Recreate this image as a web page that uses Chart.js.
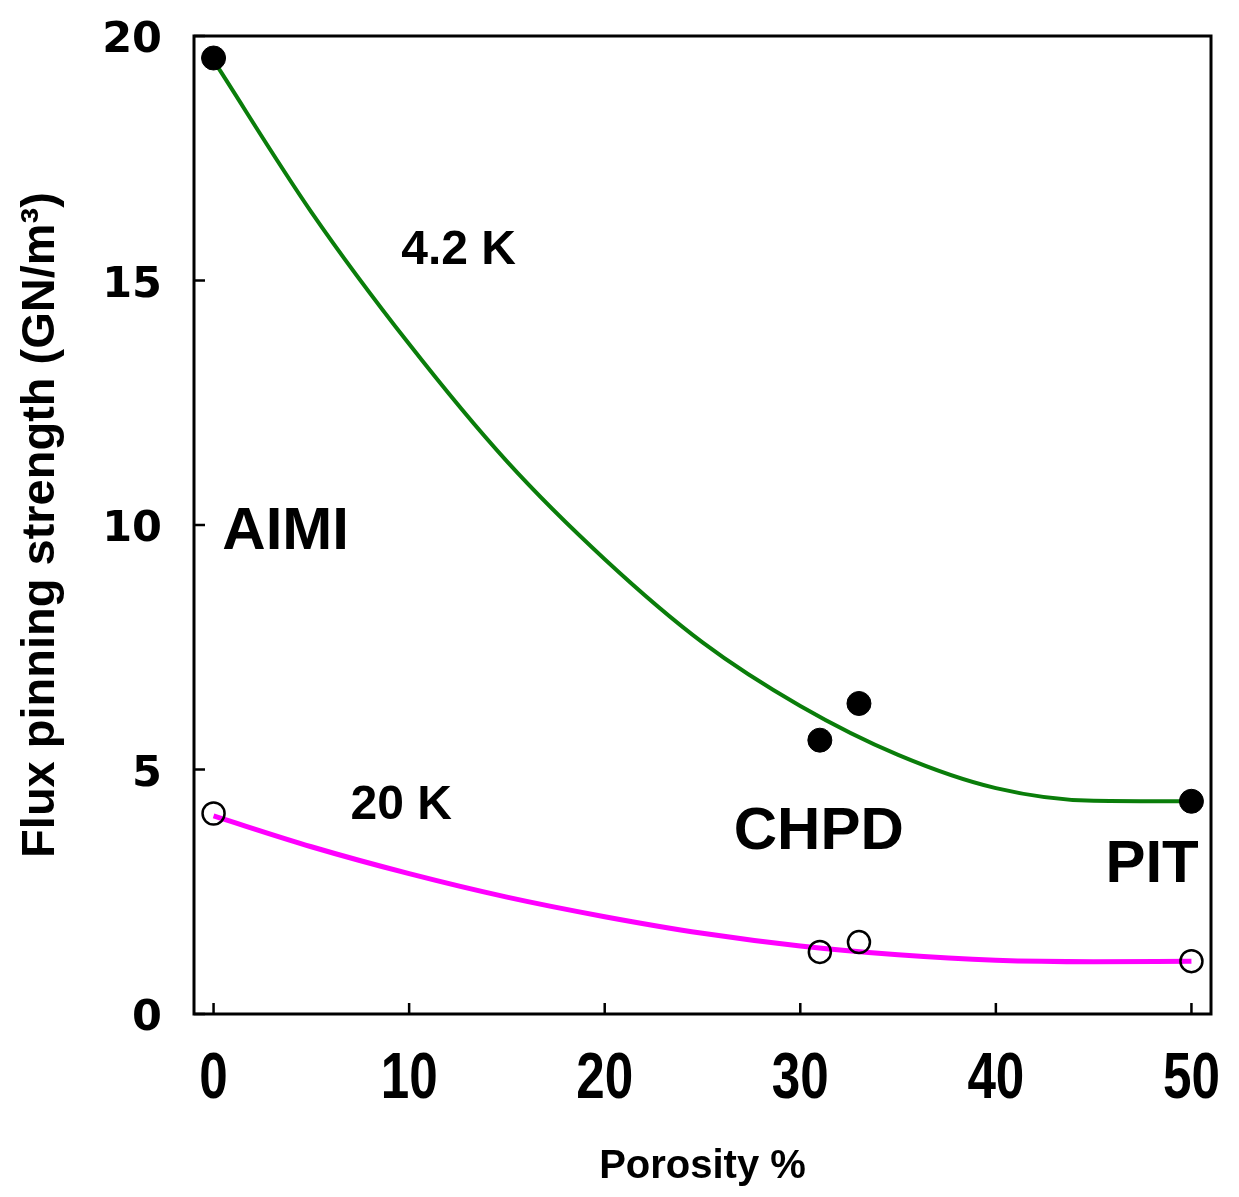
<!DOCTYPE html>
<html>
<head>
<meta charset="utf-8">
<script src="https://cdn.jsdelivr.net/npm/chart.js@4.4.1/dist/chart.umd.min.js"></script>
<style>
  html, body { margin: 0; padding: 0; background: #fff; }
  #wrap { width: 1239px; height: 1197px; }
</style>
</head>
<body>
<div id="wrap"><canvas id="chart" width="1239" height="1197"></canvas></div>
<script>
// measured points (porosity %, flux pinning strength GN/m3)
const porosity = [0, 31, 33, 50];
const fp42K = [19.55, 5.6, 6.35, 4.35];
const fp20K = [4.1, 1.27, 1.47, 1.08];

// fitted curves
const fitPorosity = [0, 5, 10, 15, 20, 25, 30, 35, 40, 45, 50];
const fit42K = [19.5, 16.4, 13.7, 11.3, 9.3, 7.6, 6.3, 5.3, 4.62, 4.36, 4.35];
const fit20K = [4.05, 3.42, 2.87, 2.39, 1.99, 1.65, 1.39, 1.21, 1.10, 1.07, 1.08];

const xTicks = [0, 10, 20, 30, 40, 50];
const yTicks = [0, 5, 10, 15, 20];

const notes = [
  { text: '4.2 K', x: 9.6, y: 15.6, size: 48 },
  { text: 'AIMI', x: 0.45, y: 9.85, size: 60 },
  { text: '20 K', x: 7.0, y: 4.25, size: 48 },
  { text: 'CHPD', x: 26.6, y: 3.72, size: 60 },
  { text: 'PIT', x: 45.6, y: 3.03, size: 60 }
];

const pts = (xs, ys) => xs.map((x, i) => ({ x: x, y: ys[i] }));

const framePlugin = {
  id: 'frame',
  beforeDatasetsDraw(chart) {
    const { ctx, chartArea: a, scales: { x, y } } = chart;
    ctx.save();
    ctx.strokeStyle = '#000';
    ctx.lineWidth = 3;
    ctx.strokeRect(a.left, a.top, a.right - a.left, a.bottom - a.top);
    ctx.lineWidth = 2.5;
    ctx.beginPath();
    xTicks.forEach(v => {
      const px = x.getPixelForValue(v);
      ctx.moveTo(px, a.bottom);
      ctx.lineTo(px, a.bottom - 11);
    });
    yTicks.forEach(v => {
      const py = y.getPixelForValue(v);
      ctx.moveTo(a.left, py);
      ctx.lineTo(a.left + 11, py);
    });
    ctx.stroke();

    ctx.fillStyle = '#000';
    ctx.textAlign = 'left';
    ctx.textBaseline = 'middle';
    notes.forEach(n => {
      ctx.font = 'bold ' + n.size + 'px "Liberation Sans", Arial, sans-serif';
      ctx.fillText(n.text, x.getPixelForValue(n.x), y.getPixelForValue(n.y));
    });

    // x tick labels: narrow bold face, squeezed like the original
    ctx.font = 'bold 64px "Liberation Sans", Arial, sans-serif';
    ctx.textAlign = 'center';
    ctx.textBaseline = 'middle';
    xTicks.forEach(v => {
      const px = x.getPixelForValue(v);
      ctx.save();
      ctx.translate(px, a.bottom + 66);
      ctx.scale(0.8, 1);
      ctx.fillText(String(v), 0, 0);
      ctx.restore();
    });
    ctx.restore();
  }
};

new Chart(document.getElementById('chart'), {
  type: 'scatter',
  data: {
    datasets: [
      {
        label: '4.2 K',
        data: pts(porosity, fp42K),
        pointRadius: 12,
        pointBackgroundColor: '#000',
        pointBorderColor: '#000',
        pointBorderWidth: 1
      },
      {
        label: '20 K',
        data: pts(porosity, fp20K),
        pointRadius: 11,
        pointBackgroundColor: 'rgba(0,0,0,0)',
        pointBorderColor: '#000',
        pointBorderWidth: 2.5
      },
      {
        type: 'line',
        label: 'fit 4.2 K',
        data: pts(fitPorosity, fit42K),
        borderColor: '#0a7d0a',
        borderWidth: 4,
        pointRadius: 0,
        fill: false,
        cubicInterpolationMode: 'monotone'
      },
      {
        type: 'line',
        label: 'fit 20 K',
        data: pts(fitPorosity, fit20K),
        borderColor: '#ff00ff',
        borderWidth: 5,
        pointRadius: 0,
        fill: false,
        cubicInterpolationMode: 'monotone'
      }
    ]
  },
  options: {
    responsive: false,
    animation: false,
    layout: { padding: { top: 36, right: 28, left: 0, bottom: 0 } },
    plugins: {
      legend: { display: false },
      tooltip: { enabled: false }
    },
    scales: {
      x: {
        type: 'linear',
        min: -1,
        max: 51,
        afterBuildTicks: s => { s.ticks = xTicks.map(v => ({ value: v })); },
        afterFit: s => { s.height = 183; s.paddingLeft = 0; s.paddingRight = 0; },
        grid: { display: false, drawTicks: false },
        border: { display: false },
        ticks: { display: false },
        title: {
          display: true,
          text: 'Porosity %',
          color: '#000',
          padding: { top: 0, bottom: 6 },
          font: { family: '"Liberation Sans", Arial, sans-serif', weight: 'bold', size: 40 }
        }
      },
      y: {
        min: 0,
        max: 20,
        afterBuildTicks: s => { s.ticks = yTicks.map(v => ({ value: v })); },
        afterFit: s => { s.width = 194; s.paddingTop = 0; s.paddingBottom = 0; },
        grid: { display: false, drawTicks: false },
        border: { display: false },
        ticks: {
          color: '#000',
          padding: 32,
          labelOffset: 5,
          font: { family: '"DejaVu Sans", sans-serif', weight: 'bold', size: 43 }
        },
        title: {
          display: true,
          text: 'Flux pinning strength (GN/m³)',
          color: '#000',
          padding: { top: 13, bottom: 0 },
          font: { family: '"Liberation Sans", Arial, sans-serif', weight: 'bold', size: 47 }
        }
      }
    }
  },
  plugins: [framePlugin]
});
</script>
</body>
</html>
